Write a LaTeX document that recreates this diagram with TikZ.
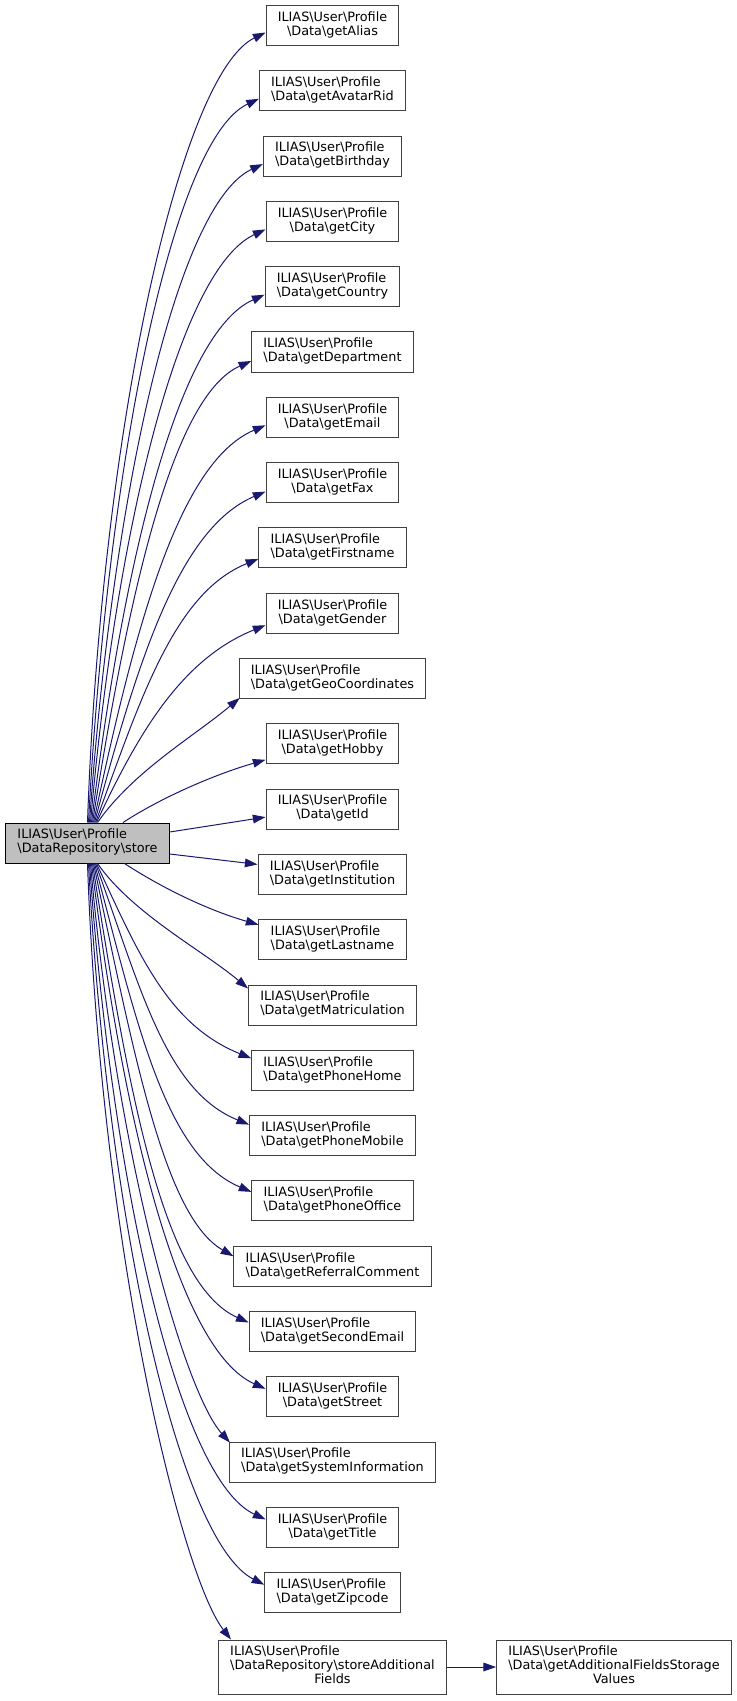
\documentclass[tikz,border=0pt]{standalone}
\usepackage{fontspec}
\setmainfont{DejaVu Sans}
\usetikzlibrary{calc,arrows.meta}

\definecolor{boxline}{HTML}{404040}
\definecolor{mainfill}{HTML}{BFBFBF}
\definecolor{callblue}{HTML}{191970}

\newcommand{\bsl}{\textbackslash}
\newcommand{\pkgline}{ILIAS\bsl User\bsl Profile}
\newcommand{\twolines}[1]{\begin{tabular}{@{}l@{}}\pkgline\\\multicolumn{1}{@{}c@{}}{#1}\end{tabular}}
\newcommand{\threelines}[2]{\begin{tabular}{@{}l@{}}\pkgline\\#1\\\multicolumn{1}{@{}c@{}}{#2}\end{tabular}}

\tikzset{
  fnbox/.style={draw=boxline, line width=0.75pt, fill=white, inner xsep=8.8pt, inner ysep=4.5pt,
    font=\fontsize{9.63pt}{10.5pt}\selectfont},
  mainbox/.style={fnbox, draw=black, fill=mainfill},
  call/.style={draw=callblue, line width=0.75pt, -{Triangle[length=9.5pt,width=6.5pt]}}
}

\begin{document}
\begin{tikzpicture}[x=0.75pt,y=0.75pt]
  \useasboundingbox (0,0) rectangle (737,-1701);
  % caller
  \node[mainbox] (store) at (87.5,-843) {\twolines{\bsl DataRepository\bsl store}};
  % callees
  \node[fnbox] (getAlias) at (332.5,-25.5) {\twolines{\bsl Data\bsl getAlias}};
  \node[fnbox] (getAvatarRid) at (332.5,-90.8) {\twolines{\bsl Data\bsl getAvatarRid}};
  \node[fnbox] (getBirthday) at (332.5,-156.1) {\twolines{\bsl Data\bsl getBirthday}};
  \node[fnbox] (getCity) at (332.5,-221.4) {\twolines{\bsl Data\bsl getCity}};
  \node[fnbox] (getCountry) at (332.5,-286.7) {\twolines{\bsl Data\bsl getCountry}};
  \node[fnbox] (getDepartment) at (332.5,-352.0) {\twolines{\bsl Data\bsl getDepartment}};
  \node[fnbox] (getEmail) at (332.5,-417.3) {\twolines{\bsl Data\bsl getEmail}};
  \node[fnbox] (getFax) at (332.5,-482.6) {\twolines{\bsl Data\bsl getFax}};
  \node[fnbox] (getFirstname) at (332.5,-547.9) {\twolines{\bsl Data\bsl getFirstname}};
  \node[fnbox] (getGender) at (332.5,-613.2) {\twolines{\bsl Data\bsl getGender}};
  \node[fnbox] (getGeoCoordinates) at (332.5,-678.5) {\twolines{\bsl Data\bsl getGeoCoordinates}};
  \node[fnbox] (getHobby) at (332.5,-743.8) {\twolines{\bsl Data\bsl getHobby}};
  \node[fnbox] (getId) at (332.5,-809.1) {\twolines{\bsl Data\bsl getId}};
  \node[fnbox] (getInstitution) at (332.5,-874.4) {\twolines{\bsl Data\bsl getInstitution}};
  \node[fnbox] (getLastname) at (332.5,-939.7) {\twolines{\bsl Data\bsl getLastname}};
  \node[fnbox] (getMatriculation) at (332.5,-1005.0) {\twolines{\bsl Data\bsl getMatriculation}};
  \node[fnbox] (getPhoneHome) at (332.5,-1070.3) {\twolines{\bsl Data\bsl getPhoneHome}};
  \node[fnbox] (getPhoneMobile) at (332.5,-1135.6) {\twolines{\bsl Data\bsl getPhoneMobile}};
  \node[fnbox] (getPhoneOffice) at (332.5,-1200.9) {\twolines{\bsl Data\bsl getPhoneOffice}};
  \node[fnbox] (getReferralComment) at (332.5,-1266.2) {\twolines{\bsl Data\bsl getReferralComment}};
  \node[fnbox] (getSecondEmail) at (332.5,-1331.5) {\twolines{\bsl Data\bsl getSecondEmail}};
  \node[fnbox] (getStreet) at (332.5,-1396.8) {\twolines{\bsl Data\bsl getStreet}};
  \node[fnbox] (getSystemInformation) at (332.5,-1462.1) {\twolines{\bsl Data\bsl getSystemInformation}};
  \node[fnbox] (getTitle) at (332.5,-1527.4) {\twolines{\bsl Data\bsl getTitle}};
  \node[fnbox] (getZipcode) at (332.5,-1592.7) {\twolines{\bsl Data\bsl getZipcode}};
  \node[fnbox] (storeAdditionalFields) at (332.5,-1667) {\threelines{\bsl DataRepository\bsl storeAdditional}{Fields}};
  \node[fnbox] (getAdditionalFieldsStorageValues) at (614,-1667) {\threelines{\bsl Data\bsl getAdditionalFieldsStorage}{Values}};
  % calls upwards
  \draw[call] ($(store.north)+(0,0)$) to[out=88,in=206,out distance=296pt,in distance=71pt] ($(getAlias.west)+(0,-7)$);
  \draw[call] ($(store.north)+(1,0)$) to[out=87,in=205,out distance=272pt,in distance=71pt] ($(getAvatarRid.west)+(0,-8)$);
  \draw[call] ($(store.north)+(2,0)$) to[out=86,in=205,out distance=247pt,in distance=71pt] ($(getBirthday.west)+(0,-8)$);
  \draw[call] ($(store.north)+(3,0)$) to[out=85,in=205,out distance=223pt,in distance=71pt] ($(getCity.west)+(0,-8)$);
  \draw[call] ($(store.north)+(4,0)$) to[out=83,in=204,out distance=198pt,in distance=71pt] ($(getCountry.west)+(0,-8)$);
  \draw[call] ($(store.north)+(5,0)$) to[out=81,in=204,out distance=173pt,in distance=65pt] ($(getDepartment.west)+(0,-9)$);
  \draw[call] ($(store.north)+(6,0)$) to[out=78,in=203,out distance=149pt,in distance=71pt] ($(getEmail.west)+(0,-8)$);
  \draw[call] ($(store.north)+(7,0)$) to[out=75,in=203,out distance=124pt,in distance=71pt] ($(getFax.west)+(0,-9)$);
  \draw[call] ($(store.north)+(8,0)$) to[out=70,in=202,out distance=99pt,in distance=68pt] ($(getFirstname.west)+(0,-11)$);
  \draw[call] ($(store.north)+(9,0)$) to[out=65,in=202,out distance=74pt,in distance=68pt] ($(getGender.west)+(0,-12)$);
  \draw[call] ($(store.north)+(10,0)$) to[out=55,in=220,out distance=47pt,in distance=45pt] ($(getGeoCoordinates.south west)+(1,1)$);
  \draw[call] ($(store.north)+(35.5,0)$) to[out=33,in=196,out distance=37pt,in distance=37pt] ($(getHobby.west)+(0,-16)$);
  % straight calls
  \draw[call] ($(store.east)+(0,11)$) -- ($(getId.west)+(0,-8)$);
  \draw[call] ($(store.east)+(0,-11)$) -- ($(getInstitution.west)+(0,10)$);
  % calls downwards
  \draw[call] ($(store.south)+(37,0)$) to[out=-33,in=164,out distance=37pt,in distance=37pt] ($(getLastname.west)+(0,15)$);
  \draw[call] ($(store.south)+(10,0)$) to[out=-55,in=140,out distance=46pt,in distance=45pt] ($(getMatriculation.north west)+(0,-4)$);
  \draw[call] ($(store.south)+(9,0)$) to[out=-65,in=158,out distance=73pt,in distance=68pt] ($(getPhoneHome.west)+(0,12)$);
  \draw[call] ($(store.south)+(8,0)$) to[out=-70,in=158,out distance=98pt,in distance=68pt] ($(getPhoneMobile.west)+(0,11)$);
  \draw[call] ($(store.south)+(7,0)$) to[out=-75,in=157,out distance=123pt,in distance=71pt] ($(getPhoneOffice.west)+(0,9)$);
  \draw[call] ($(store.south)+(6,0)$) to[out=-78,in=150,out distance=146pt,in distance=60pt] ($(getReferralComment.west)+(0,10)$);
  \draw[call] ($(store.south)+(5,0)$) to[out=-81,in=156,out distance=172pt,in distance=71pt] ($(getSecondEmail.west)+(0,9)$);
  \draw[call] ($(store.south)+(4,0)$) to[out=-83,in=156,out distance=197pt,in distance=71pt] ($(getStreet.west)+(0,8)$);
  \draw[call] ($(store.south)+(3,0)$) to[out=-85,in=132,out distance=218pt,in distance=52pt] ($(getSystemInformation.north west)+(1,-1)$);
  \draw[call] ($(store.south)+(2,0)$) to[out=-86,in=155,out distance=246pt,in distance=71pt] ($(getTitle.west)+(0,8)$);
  \draw[call] ($(store.south)+(1,0)$) to[out=-87,in=153,out distance=271pt,in distance=71pt] ($(getZipcode.west)+(0,8)$);
  \draw[call] ($(store.south)+(0,0)$) to[out=-88,in=128,out distance=291pt,in distance=60pt] ($(storeAdditionalFields.north west)+(13,0)$);
  \draw[call] (storeAdditionalFields) -- (getAdditionalFieldsStorageValues);
\end{tikzpicture}
\end{document}
